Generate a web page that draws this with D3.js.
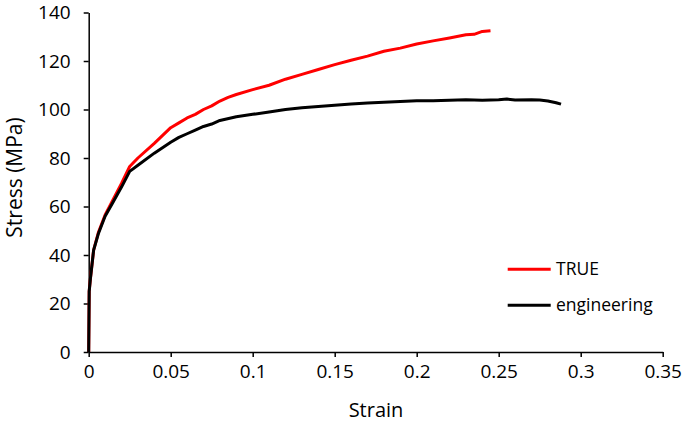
<!DOCTYPE html>
<html><head><meta charset="utf-8">
<script src="https://cdn.jsdelivr.net/npm/d3@7"></script>
<style>body{margin:0;background:#fff}</style>
</head><body>
<svg id="c" width="685" height="426"></svg>
<script>
const xTicks = [0, 0.05, 0.1, 0.15, 0.2, 0.25, 0.3, 0.35];
const yTicks = [0, 20, 40, 60, 80, 100, 120, 140];
const seriesNames = ["TRUE", "engineering"];
const trueStrain = [0, 0.0003, 0.001, 0.003, 0.006, 0.01, 0.015, 0.02, 0.025, 0.03, 0.04, 0.05, 0.055, 0.06, 0.065, 0.07, 0.075, 0.08, 0.085, 0.09, 0.1, 0.11, 0.12, 0.13, 0.14, 0.15, 0.16, 0.17, 0.18, 0.19, 0.2, 0.21, 0.22, 0.23, 0.235, 0.24, 0.245];
const trueStress = [0, 25, 30, 42, 49.5, 56.5, 63, 69.5, 76.5, 80, 86, 92.5, 94.5, 96.5, 98, 100, 101.5, 103.5, 105, 106.2, 108.2, 110, 112.5, 114.5, 116.5, 118.5, 120.3, 122, 124, 125.3, 127, 128.3, 129.5, 130.8, 131, 132.2, 132.5];
const engStrain = [0, 0.0003, 0.001, 0.003, 0.006, 0.01, 0.015, 0.02, 0.025, 0.03, 0.04, 0.05, 0.055, 0.06, 0.065, 0.07, 0.075, 0.08, 0.09, 0.1, 0.11, 0.12, 0.13, 0.14, 0.15, 0.16, 0.17, 0.18, 0.19, 0.2, 0.21, 0.22, 0.23, 0.24, 0.25, 0.255, 0.26, 0.27, 0.275, 0.28, 0.285, 0.288];
const engStress = [0, 25, 30, 42, 49, 56, 62, 68, 74.5, 77, 82, 86.5, 88.5, 90, 91.5, 93, 94, 95.5, 97, 98, 99, 100, 100.7, 101.2, 101.8, 102.3, 102.7, 103, 103.3, 103.6, 103.6, 103.8, 104, 103.8, 104, 104.3, 103.9, 104, 103.9, 103.5, 102.8, 102.2];

const svg = d3.select("#c");
const x = d3.scaleLinear().domain([0, 0.35]).range([88.7, 662.7]);
const y = d3.scaleLinear().domain([0, 140]).range([352, 12.5]);
const font = "'Open Sans', sans-serif";

const xa = svg.append("g").attr("transform", "translate(0,352)")
  .call(d3.axisBottom(x).tickValues(xTicks).tickSize(5).tickSizeOuter(0).tickFormat(d => d3.format("")(+d.toFixed(2))));
const ya = svg.append("g").attr("transform", "translate(88.7,0)")
  .call(d3.axisLeft(y).tickValues(yTicks).tickSize(5).tickSizeOuter(0));
[xa, ya].forEach(a => {
  a.select(".domain").attr("stroke", "#000").attr("stroke-width", 1.5);
  a.selectAll(".tick line").attr("stroke", "#000").attr("stroke-width", 1.5);
  a.selectAll("text").attr("font-family", font).attr("font-size", 19).attr("fill", "#000");
});
xa.selectAll("text").attr("dy", "0.95em");
ya.selectAll("text").attr("dx", -10);

const line = d3.line().x(d => x(d[0])).y(d => y(d[1]));
const engData = engStrain.map((s, i) => [s, engStress[i]]);
const trueData = trueStrain.map((s, i) => [s, trueStress[i]]);
svg.append("path").datum(trueData).attr("d", line).attr("fill", "none").attr("stroke", "#ff0000").attr("stroke-width", 3).attr("stroke-linejoin", "round");
svg.append("path").datum(engData).attr("d", line).attr("fill", "none").attr("stroke", "#000").attr("stroke-width", 3).attr("stroke-linejoin", "round");

svg.append("text").attr("x", 376).attr("y", 417).attr("text-anchor", "middle")
  .attr("font-family", font).attr("font-size", 20).text("Strain");
svg.append("text").attr("transform", "translate(21.5,177.5) rotate(-90)").attr("text-anchor", "middle")
  .attr("font-family", font).attr("font-size", 21).text("Stress (MPa)");

const colors = ["#ff0000", "#000"];
const leg = svg.append("g");
seriesNames.forEach((n, i) => {
  const ly = 269.3 + i * 36;
  leg.append("line").attr("x1", 507.7).attr("x2", 550.7).attr("y1", ly).attr("y2", ly)
    .attr("stroke", colors[i]).attr("stroke-width", 3);
  leg.append("text").attr("x", 556).attr("y", ly).attr("dy", "0.35em")
    .attr("font-family", font).attr("font-size", 17.5).text(n);
});
</script>
</body></html>
